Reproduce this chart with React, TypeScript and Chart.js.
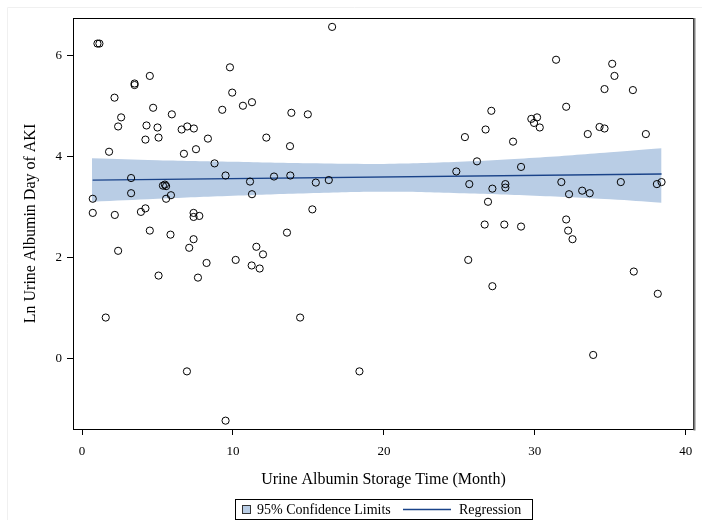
import { useEffect, useRef } from "react";
import { Chart, registerables } from "chart.js";

Chart.register(...registerables);

// Scatter observations (storage time in months, ln urine albumin)
const xValues = [
  1.02, 1.15, 16.57, 9.8, 4.49, 3.48, 3.48, 2.15, 9.95, 4.71, 10.66, 11.26, 9.29, 2.59, 5.95,
  13.87, 14.96, 2.39, 4.27, 5.0, 6.6, 6.97, 7.41, 4.2, 5.07, 8.34, 12.21, 13.78, 6.75, 7.55,
  1.79, 8.78, 9.51, 3.25, 11.13, 12.72, 13.8, 15.49, 16.35, 5.36, 5.49, 5.57, 3.25, 11.26, 0.71,
  5.57, 5.89, 0.71, 2.17, 3.9, 4.2, 7.39, 7.39, 7.77, 15.26, 4.49, 13.58, 5.86, 7.39, 7.1,
  2.39, 11.55, 11.99, 10.18, 8.25, 11.24, 11.77, 5.07, 7.68, 1.57, 14.45, 6.95, 18.38, 9.51,
  31.41, 35.13, 35.28, 34.62, 36.5, 32.08, 27.12, 26.74, 25.37, 28.56, 29.77, 30.15, 29.95, 30.33,
  33.51, 34.29, 34.62, 37.36, 26.17, 24.8, 29.09, 25.66, 27.19, 28.05, 28.05, 31.76, 32.27, 33.14,
  33.64, 35.7, 38.09, 38.4, 26.9, 26.68, 27.98, 29.09, 32.08, 32.21, 32.5, 25.59, 27.19, 36.56,
  38.15, 33.87,
];
const yValues = [
  6.24, 6.24, 6.57, 5.77, 5.6, 5.42, 5.45, 5.17, 5.27, 4.97, 5.01, 5.08, 4.93, 4.78, 4.84,
  4.87, 4.84, 4.6, 4.62, 4.58, 4.54, 4.6, 4.56, 4.34, 4.38, 4.36, 4.38, 4.21, 4.06, 4.15,
  4.1, 3.87, 3.63, 3.58, 3.51, 3.61, 3.63, 3.49, 3.54, 3.43, 3.45, 3.42, 3.28, 3.26, 3.17,
  3.17, 3.24, 2.89, 2.85, 2.91, 2.98, 2.89, 2.81, 2.83, 2.96, 2.54, 2.5, 2.46, 2.37, 2.2,
  2.14, 2.22, 2.07, 1.96, 1.9, 1.85, 1.79, 1.65, 1.61, 0.82, 0.82, -0.245, -0.245, -1.22,
  5.92, 5.84, 5.6, 5.34, 5.32, 4.99, 4.91, 4.54, 4.39, 4.3, 4.75, 4.78, 4.67, 4.58,
  4.45, 4.59, 4.56, 4.45, 3.91, 3.71, 3.8, 3.46, 3.37, 3.46, 3.39, 3.5, 3.26, 3.33,
  3.28, 3.5, 3.46, 3.5, 3.11, 2.66, 2.66, 2.62, 2.76, 2.54, 2.37, 1.96, 1.44, 1.73,
  1.29, 0.08,
];

// Regression line end points
const regX = [0.7, 38.4];
const regY = [3.54, 3.66];

// 95% confidence band read at several x positions
const bandX = [0.66, 5, 10, 15, 20, 25, 30, 35, 38.4];
const bandUpper = [3.97, 3.93, 3.9, 3.87, 3.86, 3.9, 3.98, 4.09, 4.17];
const bandLower = [3.11, 3.17, 3.23, 3.28, 3.31, 3.28, 3.23, 3.16, 3.09];

const xTicks = [0, 10, 20, 30, 40];
const yTicks = [0, 2, 4, 6];

const xTitle = "Urine Albumin Storage Time (Month)";
const yTitle = "Ln Urine Albumin Day of AKI";
const legendLabels = ["95% Confidence Limits", "Regression"];

const FONT = "'Liberation Serif', 'Times New Roman', serif";
const BAND = "#b9cde5";
const LINE = "#1a4389";

const framePlugin = {
  id: "frameAndLegend",
  afterDatasetsDraw(chart: any) {
    const { ctx, chartArea: a } = chart;
    ctx.save();
    // faint outer frame
    ctx.strokeStyle = "#f0f0f0";
    ctx.lineWidth = 1;
    ctx.beginPath();
    ctx.moveTo(7.5, 520);
    ctx.lineTo(7.5, 7.5);
    ctx.lineTo(702, 7.5);
    ctx.stroke();
    // plot box
    ctx.strokeStyle = "#000";
    ctx.lineWidth = 1;
    ctx.strokeRect(a.left + 0.5, a.top + 0.5, a.right - a.left - 1, a.bottom - a.top);
    ctx.fillStyle = "#7f7f7f";
    ctx.fillRect(a.right - 0.5, a.top, 2, a.bottom - a.top + 1.5);

    // legend
    const lx = 235.5, ly = 499.5, lw = 297, lh = 20;
    ctx.fillStyle = "#fff";
    ctx.fillRect(lx, ly, lw, lh);
    ctx.strokeStyle = "#000";
    ctx.strokeRect(lx, ly, lw, lh);
    const cy = ly + lh / 2;
    ctx.fillStyle = BAND;
    ctx.fillRect(242, cy - 4.5, 8, 8);
    ctx.strokeStyle = "#333";
    ctx.strokeRect(242.5, cy - 4, 8, 8);
    ctx.fillStyle = "#000";
    ctx.font = `14px ${FONT}`;
    ctx.textBaseline = "middle";
    ctx.textAlign = "left";
    ctx.fillText(legendLabels[0], 257, cy + 0.5);
    ctx.strokeStyle = LINE;
    ctx.lineWidth = 1.3;
    ctx.beginPath();
    ctx.moveTo(403, cy);
    ctx.lineTo(451, cy);
    ctx.stroke();
    ctx.fillText(legendLabels[1], 459, cy + 0.5);
    ctx.restore();
  },
};

export default function App() {
  const ref = useRef<HTMLCanvasElement | null>(null);

  useEffect(() => {
    if (!ref.current) return;
    const scatterData = xValues.map((x, i) => ({ x, y: yValues[i] }));
    const regData = regX.map((x, i) => ({ x, y: regY[i] }));
    const upperData = bandX.map((x, i) => ({ x, y: bandUpper[i] }));
    const lowerData = bandX.map((x, i) => ({ x, y: bandLower[i] }));

    const chart = new Chart(ref.current, {
      type: "scatter",
      data: {
        datasets: [
          {
            label: "Observed",
            data: scatterData,
            order: 0,
            pointStyle: "circle",
            pointRadius: 3.6,
            pointBorderWidth: 1,
            borderColor: "#000",
            backgroundColor: "rgba(0,0,0,0)",
          },
          {
            type: "line",
            label: legendLabels[1],
            data: regData,
            order: 1,
            borderColor: LINE,
            borderWidth: 1.3,
            pointRadius: 0,
            fill: false,
          },
          {
            type: "line",
            label: "upper",
            data: upperData,
            order: 2,
            borderWidth: 0,
            borderColor: "rgba(0,0,0,0)",
            backgroundColor: BAND,
            pointRadius: 0,
            tension: 0.4,
            fill: "+1",
          },
          {
            type: "line",
            label: "lower",
            data: lowerData,
            order: 3,
            borderWidth: 0,
            borderColor: "rgba(0,0,0,0)",
            backgroundColor: BAND,
            pointRadius: 0,
            tension: 0.4,
            fill: false,
          },
        ],
      },
      options: {
        animation: false,
        responsive: false,
        devicePixelRatio: 1,
        layout: { padding: { top: 18, right: 8, left: 0, bottom: 28 } },
        plugins: {
          legend: { display: false },
          tooltip: { enabled: false },
        },
        scales: {
          x: {
            type: "linear",
            min: -0.6,
            max: 40.55,
            afterBuildTicks: (s: any) => {
              s.ticks = xTicks.map((v) => ({ value: v }));
            },
            afterFit: (s: any) => {
              s.height = 68;
            },
            grid: {
              display: true,
              drawOnChartArea: false,
              drawTicks: true,
              tickLength: 6,
              color: "#000",
            },
            border: { display: false },
            ticks: {
              color: "#000",
              padding: 9,
              font: { family: FONT, size: 13 },
              maxRotation: 0,
            },
            title: {
              display: true,
              text: xTitle,
              color: "#000",
              font: { family: FONT, size: 16 },
              padding: { top: 0, bottom: 8 },
            },
          },
          y: {
            type: "linear",
            min: -1.385,
            max: 6.746,
            afterBuildTicks: (s: any) => {
              s.ticks = yTicks.map((v) => ({ value: v }));
            },
            afterFit: (s: any) => {
              s.width = 73;
            },
            grid: {
              display: true,
              drawOnChartArea: false,
              drawTicks: true,
              tickLength: 6,
              color: "#000",
            },
            border: { display: false },
            ticks: {
              color: "#000",
              padding: 5,
              font: { family: FONT, size: 13 },
            },
            title: {
              display: true,
              text: yTitle,
              color: "#000",
              font: { family: FONT, size: 16 },
              padding: { top: 21, bottom: 0 },
            },
          },
        },
      },
      plugins: [framePlugin],
    });
    return () => chart.destroy();
  }, []);

  return (
    <div style={{ position: "fixed", left: 0, top: 0, width: 702, height: 525, background: "#fff" }}>
      <canvas ref={ref} width={702} height={525} style={{ width: 702, height: 525, display: "block" }} />
    </div>
  );
}
